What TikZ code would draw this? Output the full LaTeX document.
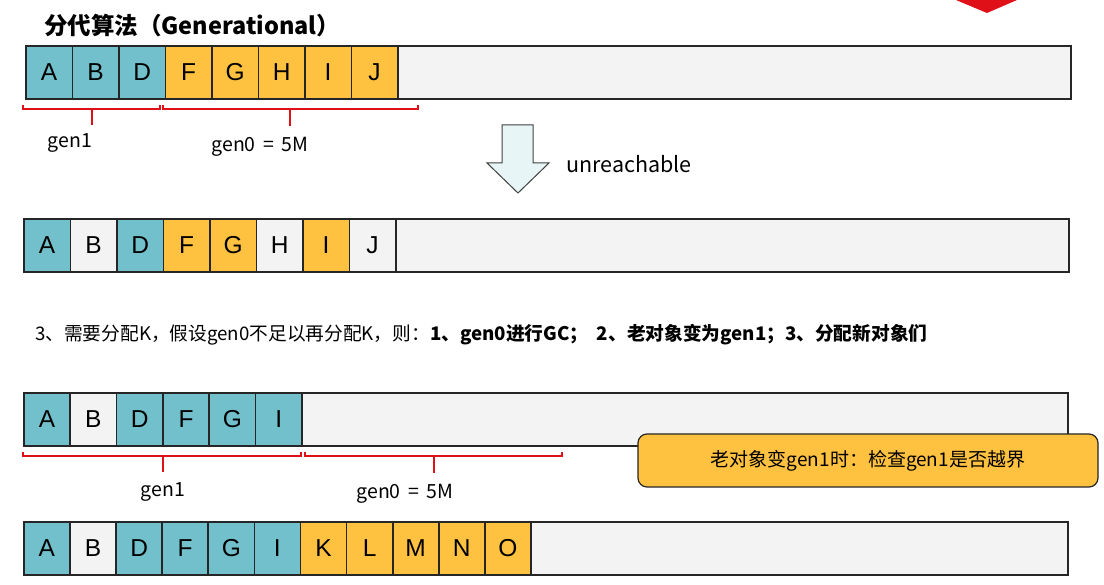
\documentclass[tikz,border=0pt]{standalone}
\usepackage{fontspec}
\setmainfont{Noto Sans CJK SC}
\newfontfamily\cellfont{Liberation Sans}
\definecolor{tealc}{RGB}{114,192,204}
\definecolor{orgc}{RGB}{255,194,64}
\definecolor{emptyc}{RGB}{243,243,243}
\definecolor{brk}{RGB}{224,16,24}
\definecolor{arrfill}{RGB}{232,245,246}
\tikzset{
  x=1pt,y=-1pt,
  memory/.style={draw=black!85, line width=1.7pt, fill=emptyc, minimum height=53pt, inner sep=0pt, anchor=north west},
  cellbox/.style={draw=black!85, line width=1.7pt, minimum height=53pt, inner sep=0pt, anchor=north west, font=\cellfont\fontsize{24.5}{24.5}\selectfont},
  bracket/.style={draw=brk, line width=2.7pt},
  lbl/.style={font=\fontsize{19.5}{19.5}\selectfont, inner sep=0pt},
}
\begin{document}
\begin{tikzpicture}
\useasboundingbox (0,0) rectangle (1104,585);
\fill[white] (0,0) rectangle (1104,585);
% red mark top right
\fill[brk] (956,0) -- (1017,0) -- (987,13) -- cycle;
% title
\node[anchor=west, inner sep=0pt, font=\bfseries\fontsize{23.5}{23.5}\selectfont] (title) at (44,26) {分代算法（Generational）};
% row 1
\node[memory, minimum width=1045pt] (m1) at (25,45) {};
\foreach \l/\c [count=\i from 0] in {A/tealc,B/tealc,D/tealc,F/orgc,G/orgc,H/orgc,I/orgc,J/orgc}
  \node[cellbox, fill=\c, minimum width=46.5pt] (a\l) at ({25+46.5*\i},45) {\l};
\draw[bracket] (23,105) -- (23,109) -- (160,109) -- (160,105);
\draw[bracket] (92,109) -- (92,125);
\draw[bracket] (163,105) -- (163,109) -- (418,109) -- (418,105);
\draw[bracket] (290,109) -- (290,126);
\node[lbl] (g1a) at (70,143) {gen1};
\node[lbl] (g0a) at (260,147) {gen0\,\ =\ \,5M};
% arrow
\draw[draw=black!75, line width=1pt, fill=arrfill] (502,125) -- (533,125) -- (533,163) -- (549,163) -- (518,193) -- (487,163) -- (502,163) -- cycle;
\node[anchor=west, inner sep=0pt, font=\fontsize{21.5}{21.5}\selectfont] (unr) at (566,164) {unreachable};
% row 2
\node[memory, minimum width=1045pt] (m2) at (23,218) {};
\foreach \l/\c [count=\i from 0] in {A/tealc,B/emptyc,D/tealc,F/orgc,G/orgc,H/emptyc,I/orgc,J/emptyc}
  \node[cellbox, fill=\c, minimum width=46.5pt] (b\l) at ({23+46.5*\i},218) {\l};
% text line
\node[anchor=west, inner sep=0pt, font=\fontsize{18.7}{18.7}\selectfont] (step3) at (35,335) {3、需要分配K，假设gen0不足以再分配K，则：\textbf{1、gen0进行GC；\ \ 2、老对象变为gen1；3、分配新对象们}};
% row 3
\node[memory, minimum width=1044pt] (m3) at (23,392) {};
\foreach \l/\c [count=\i from 0] in {A/tealc,B/emptyc,D/tealc,F/tealc,G/tealc,I/tealc}
  \node[cellbox, fill=\c, minimum width=46.33pt] (c\l) at ({23+46.33*\i},392) {\l};
\draw[bracket] (23,452) -- (23,456) -- (301,456) -- (301,452);
\draw[bracket] (163,456) -- (163,472);
\draw[bracket] (305,452) -- (305,456) -- (562,456) -- (562,452);
\draw[bracket] (434,456) -- (434,473);
\node[lbl] (g1b) at (163,492) {gen1};
\node[lbl] (g0b) at (405,494) {gen0\,\ =\ \,5M};
% callout
\node[draw=black!85, line width=1.2pt, fill=orgc, rounded corners=9pt, minimum width=460pt, minimum height=53pt, inner sep=0pt, font=\fontsize{19}{19}\selectfont] (note) at (868,460.5) {老对象变gen1时：检查gen1是否越界};
% row 4
\node[memory, minimum width=1044pt] (m4) at (23,521) {};
\foreach \l/\c [count=\i from 0] in {A/tealc,B/emptyc,D/tealc,F/tealc,G/tealc,I/tealc,K/orgc,L/orgc,M/orgc,N/orgc,O/orgc}
  \node[cellbox, fill=\c, minimum width=46.1pt] (d\l) at ({23+46.1*\i},521) {\l};
\end{tikzpicture}
\end{document}
